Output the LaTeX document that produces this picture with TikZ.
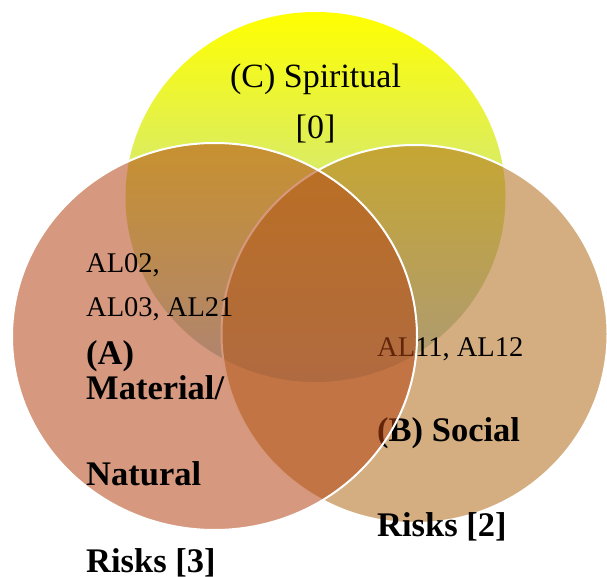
\documentclass[tikz,border=0pt]{standalone}
\usepackage{fontspec}
\setmainfont{Liberation Serif}
\definecolor{cA}{RGB}{180,68,20}
\definecolor{cB}{RGB}{177,108,24}
\definecolor{cCtop}{RGB}{255,255,0}
\definecolor{cCbot}{RGB}{168,210,235}
\begin{document}
\begin{tikzpicture}[x=1pt,y=-1pt,
  setA/.style={fill=cA,fill opacity=0.55,draw=white,draw opacity=1,line width=2pt},
  setB/.style={fill=cB,fill opacity=0.55,draw=white,draw opacity=1,line width=2pt},
  lbl/.style={inner sep=0pt,anchor=base west,text=black},
  lblc/.style={inner sep=0pt,anchor=base,text=black},
  reg/.style={font=\fontsize{28.5pt}{34pt}\selectfont},
  big/.style={font=\fontsize{34pt}{40pt}\selectfont},
  bigb/.style={font=\fontsize{34.5pt}{40pt}\selectfont\bfseries}]
\useasboundingbox (0,0) rectangle (607,577);
% circle C (Spiritual)
\shade[top color=cCtop,bottom color=cCbot] (315.5,197) ellipse [x radius=190pt, y radius=185pt];
\node[lblc,big] (ct1) at (315.5,88) {(C) Spiritual};
\node[lblc,big] (ct2) at (315.5,139) {[0]};
% circle B (Social)
\path[setB] (414.5,334) ellipse [x radius=193pt, y radius=189pt];
\node[lbl,reg] (bt1) at (377,356) {AL11, AL12};
\node[lbl,bigb] (bt2) at (377,441.7) {(B) Social};
\node[lbl,bigb] (bt3) at (377,536.7) {Risks [2]};
% circle A (Material/Natural)
\path[setA] (214.5,336.5) ellipse [x radius=202.5pt, y radius=193.5pt];
\node[lbl,reg] (at1) at (86,272.7) {AL02,};
\node[lbl,reg] (at2) at (86,316) {AL03, AL21};
\node[lbl,bigb] (at3) at (86,364) {(A)};
\node[lbl,bigb] (at4) at (86,399) {Material/};
\node[lbl,bigb] (at5) at (86,485) {Natural};
\node[lbl,bigb] (at6) at (86,572) {Risks [3]};
\end{tikzpicture}
\end{document}
